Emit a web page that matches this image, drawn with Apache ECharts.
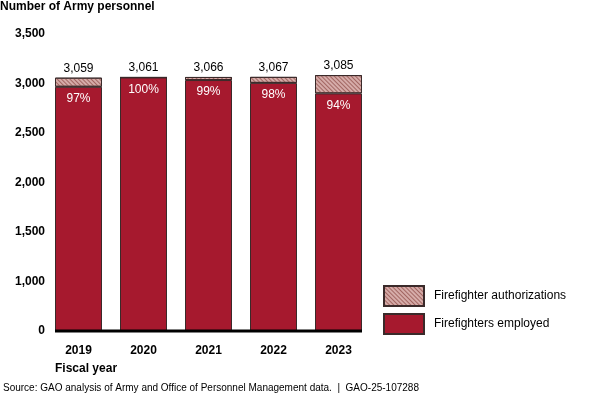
<!DOCTYPE html>
<html>
<head>
<meta charset="utf-8">
<script src="https://cdn.jsdelivr.net/npm/echarts@6/dist/echarts.min.js"></script>
<style>
html,body{margin:0;padding:0;background:#fff;}
#chart{width:600px;height:396px;}
</style>
</head>
<body>
<div id="chart"></div>
<script>
// Data
var years = ['2019', '2020', '2021', '2022', '2023'];
var authorizations = [3059, 3061, 3066, 3067, 3085];
var employed = [2967, 3061, 3035, 3006, 2900];
var percentEmployed = ['97%', '100%', '99%', '98%', '94%'];
var yTicks = [500, 1000, 1500, 2000, 2500, 3000, 3500];
var yTickLabels = ['0', '1,000', '1,500', '2,000', '2,500', '3,000', '3,500'];

var FONT = '"Liberation Sans", Arial, sans-serif';
var RED = '#a6192e';

var gap = authorizations.map(function (a, i) { return a - employed[i]; });

var chart = echarts.init(document.getElementById('chart'), null, {renderer: 'canvas'});

var option = {
  animation: false,
  textStyle: {fontFamily: FONT},
  title: [
    {text: 'Number of Army personnel', left: 0, top: 1, padding: 0,
     textStyle: {fontFamily: FONT, fontSize: 12, fontWeight: 'bold', color: '#000'}},
    {text: 'Fiscal year', left: 55, top: 363, padding: 0,
     textStyle: {fontFamily: FONT, fontSize: 12, fontWeight: 'bold', color: '#000'}},
    {text: 'Source: GAO analysis of Army and Office of Personnel Management data.  |  GAO-25-107288', left: 3, top: 383, padding: 0,
     textStyle: {fontFamily: FONT, fontSize: 10, fontWeight: 'normal', color: '#000'}}
  ],
  legend: {
    orient: 'vertical', left: 383, top: 285, padding: 0,
    icon: 'rect',
    itemWidth: 40, itemHeight: 20, itemGap: 6,
    data: ['Firefighter authorizations', 'Firefighters employed'],
    textStyle: {fontFamily: FONT, fontSize: 12, color: '#000', padding: [0, 0, 0, 5]}
  },
  grid: {left: 46, width: 325, top: 34, bottom: 65, containLabel: false},
  xAxis: {
    type: 'category', data: years,
    axisLine: {show: false}, axisTick: {show: false},
    axisLabel: {fontFamily: FONT, fontSize: 12, fontWeight: 'bold', color: '#000', margin: 14}
  },
  yAxis: {
    type: 'value', min: 500, max: 3500, interval: 500,
    splitLine: {show: false}, axisLine: {show: false}, axisTick: {show: false},
    axisLabel: {
      fontFamily: FONT, fontSize: 12, fontWeight: 'bold', color: '#000', margin: 1,
      formatter: function (v) { var i = yTicks.indexOf(v); return i >= 0 ? yTickLabels[i] : ''; }
    }
  },
  series: [
    {
      name: 'Firefighters employed', type: 'bar', stack: 'total', barWidth: 47,
      data: employed,
      itemStyle: {color: RED, borderColor: '#3a2a2a', borderWidth: 1},
      label: {
        show: true, position: 'insideTop', distance: 6,
        fontFamily: FONT, fontSize: 12, color: '#fff',
        formatter: function (p) { return percentEmployed[p.dataIndex]; }
      }
    },
    {
      name: 'Firefighter authorizations', type: 'bar', stack: 'total', barWidth: 47,
      data: gap,
      itemStyle: {
        color: '#d6aca9', borderColor: '#3a2a2a', borderWidth: 1,
        decal: {symbol: 'rect', symbolSize: 1, dashArrayX: [1, 0], dashArrayY: [1, 2],
                rotation: Math.PI / 4, color: '#a26662'}
      },
      label: {
        show: true, position: 'top', distance: 3,
        fontFamily: FONT, fontSize: 12, color: '#000',
        formatter: function (p) { return authorizations[p.dataIndex].toLocaleString('en-US'); }
      }
    }
  ]
};
chart.setOption(option);

// Baseline spanning the bars, from the library's own scales
var x0 = chart.convertToPixel({xAxisIndex: 0}, years[0]) - 23.5;
var x1 = chart.convertToPixel({xAxisIndex: 0}, years[years.length - 1]) + 23.5;
var yb = chart.convertToPixel({yAxisIndex: 0}, 500);
chart.setOption({
  graphic: [{type: 'line', shape: {x1: x0, y1: yb, x2: x1, y2: yb},
             style: {stroke: '#000', lineWidth: 3}, z: 10}]
});
</script>
</body>
</html>
